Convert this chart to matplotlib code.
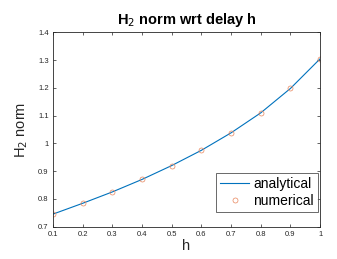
import matplotlib
matplotlib.use("Agg")
import matplotlib.pyplot as plt

plt.rcParams["font.family"] = ["Liberation Sans", "DejaVu Sans"]

h_vals = [0.1, 0.2, 0.3, 0.4, 0.5, 0.6, 0.7, 0.8, 0.9, 1.0]
analytical = [0.745, 0.784, 0.825, 0.870, 0.920, 0.975, 1.038, 1.110, 1.198, 1.305]
numerical = [0.745, 0.784, 0.825, 0.870, 0.920, 0.975, 1.038, 1.110, 1.198, 1.305]
x_ticks = [0.1, 0.2, 0.3, 0.4, 0.5, 0.6, 0.7, 0.8, 0.9, 1.0]
x_labels = ["0.1", "0.2", "0.3", "0.4", "0.5", "0.6", "0.7", "0.8", "0.9", "1"]
y_ticks = [0.7, 0.8, 0.9, 1.0, 1.1, 1.2, 1.3, 1.4]
y_labels = ["0.7", "0.8", "0.9", "1", "1.1", "1.2", "1.3", "1.4"]

fig = plt.figure(figsize=(3.37, 2.59), dpi=100)
ax = fig.add_axes([0.157, 0.125, 0.793, 0.750])

ax.plot(h_vals, analytical, color="#0072BD", lw=0.8, label="analytical")
ax.plot(h_vals, numerical, ls="none", marker="o", ms=3.6, mfc="none",
        mec="#E8845A", mew=0.5, label="numerical")

ax.set_xlim(0.1, 1.0)
ax.set_ylim(0.7, 1.4)
ax.set_xticks(x_ticks)
ax.set_xticklabels(x_labels)
ax.set_yticks(y_ticks)
ax.set_yticklabels(y_labels)
ax.tick_params(direction="in", length=2.5, width=0.5, labelsize=5.5,
               colors="#262626", top=True, right=True, pad=3)
for s in ax.spines.values():
    s.set_linewidth(0.6)
    s.set_color("#262626")

ax.set_title("H$_2$ norm wrt delay h", fontsize=10.5, fontweight="bold", pad=6)
ax.set_xlabel("h", fontsize=10.5, labelpad=1, color="#262626")
ax.set_ylabel("H$_2$ norm", fontsize=10.5, labelpad=6, color="#262626")

leg = ax.legend(loc="lower right", bbox_to_anchor=(0.9925, 0.077),
                fontsize=10, frameon=True, fancybox=False,
                edgecolor="#262626", handlelength=2.1, handletextpad=0.3,
                borderpad=0.3, labelspacing=0.2, borderaxespad=0.0)
leg.get_frame().set_linewidth(0.6)

fig.savefig("out.png", dpi=100)
